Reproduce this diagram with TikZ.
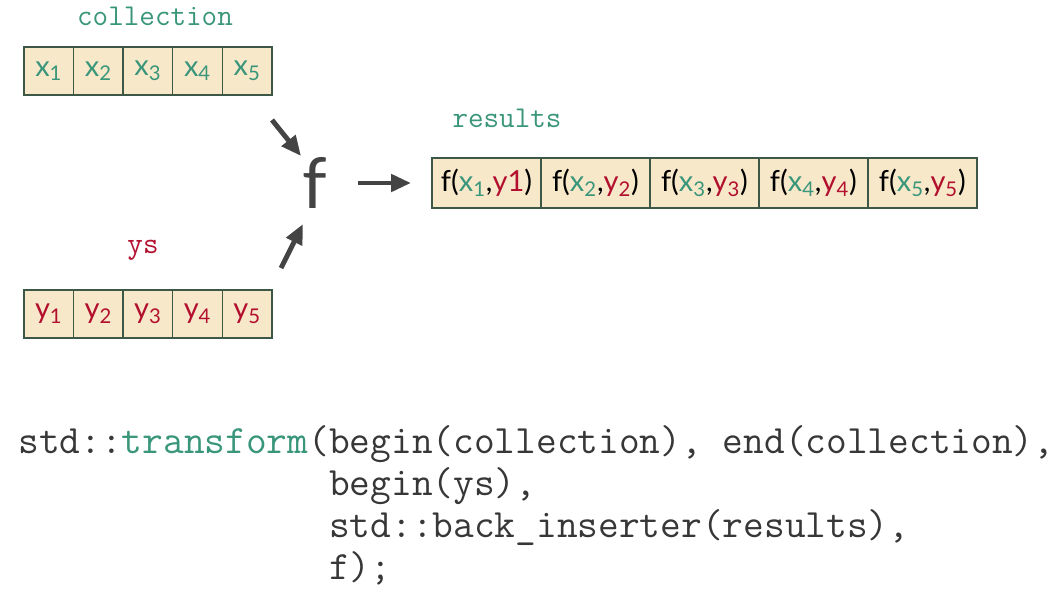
\documentclass[tikz,border=0pt]{standalone}
\usepackage{fontspec}
\setmainfont{Lato}
\usetikzlibrary{arrows.meta, positioning}
\definecolor{xcol}{RGB}{58,150,122}
\definecolor{ycol}{RGB}{178,16,46}
\definecolor{cellbg}{RGB}{248,232,202}
\definecolor{cellline}{RGB}{62,88,72}
\definecolor{arrowgray}{RGB}{68,68,68}
\definecolor{codegray}{RGB}{55,55,55}

\newcommand{\xv}[1]{\textcolor{xcol}{x\textsubscript{#1}}}
\newcommand{\yv}[1]{\textcolor{ycol}{y\textsubscript{#1}}}

\tikzset{
  cell/.style={draw=cellline, fill=cellbg, line width=0.8pt, outer sep=0pt,
               inner sep=0pt, minimum width=0.992cm, minimum height=0.96cm,
               font=\fontsize{16.5}{16.5}\selectfont},
  rcell/.style={cell, minimum width=2.18cm, minimum height=1.0cm},
  seqname/.style={font=\ttfamily\fontsize{17.2}{18}\selectfont},
  arr/.style={-{Triangle[length=0.4cm, width=0.34cm]}, line width=2.8pt, arrowgray}
}

\begin{document}
\begin{tikzpicture}[x=0.02cm, y=-0.02cm]
  \useasboundingbox (0,0) rectangle (1064,595);

  % input sequences
  \node[cell] (c1) at (48.8,71) {\xv{1}};
  \foreach \i/\j in {2/1, 3/2, 4/3, 5/4}
    \node[cell, right=0pt of c\j] (c\i) {\xv{\i}};
  \node[cell] (y1) at (48.8,314) {\yv{1}};
  \foreach \i/\j in {2/1, 3/2, 4/3, 5/4}
    \node[cell, right=0pt of y\j] (y\i) {\yv{\i}};

  \node[seqname, xcol] (cname) at (155,16) {collection};
  \node[seqname, ycol] (yname) at (143,250) {ys};

  % the function
  \node[inner sep=0pt, text=arrowgray, font=\fontsize{40}{40}\selectfont] (fn) at (315,183) {f};

  % results
  \node[rcell] (r1) at (486.5,183) {f(\xv{1},\textcolor{ycol}{y1})};
  \foreach \i/\j in {2/1, 3/2, 4/3, 5/4}
    \node[rcell, right=0pt of r\j] (r\i) {f(\xv{\i},\yv{\i})};
  \node[seqname, xcol] (rname) at (507,118) {results};

  % arrows into and out of f
  \coordinate (in1) at (272,120);
  \coordinate (in1e) at (301,156);
  \coordinate (in2) at (281,268);
  \coordinate (in2e) at (303,224);
  \coordinate (out) at (358,183);
  \draw[arr] (in1) -- (in1e);
  \draw[arr] (in2) -- (in2e);
  \draw[arr, shorten >=0.42cm] (out) -- (r1.west);

  % the call
  \node[anchor=base west, inner sep=0pt, align=left, text=codegray,
        font=\ttfamily\fontsize{22.9}{23.9}\selectfont] (code) at (18,579)
    {std::\textcolor{xcol}{transform}(begin(collection), end(collection),\\
     \phantom{std::transform(}begin(ys),\\
     \phantom{std::transform(}std::back\_inserter(results),\\
     \phantom{std::transform(}f);};
\end{tikzpicture}
\end{document}
